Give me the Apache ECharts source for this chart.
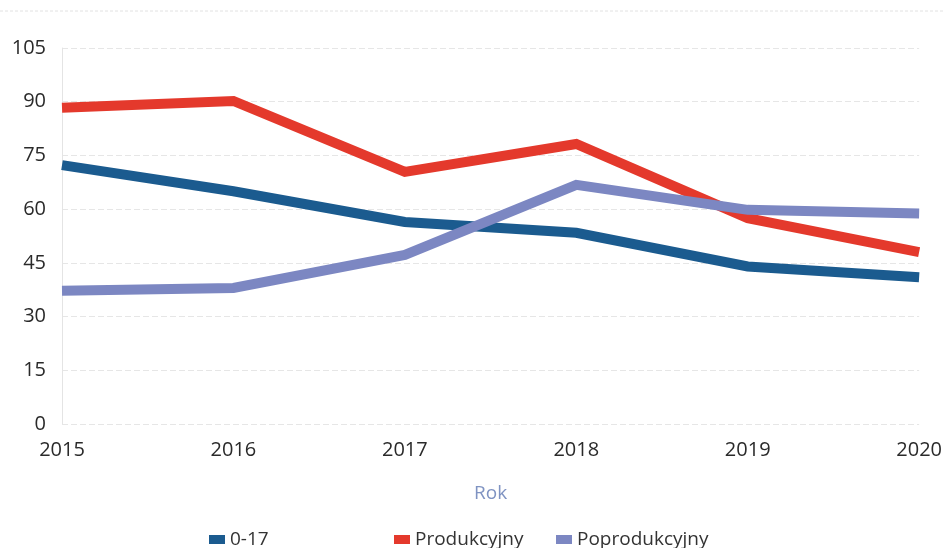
<!DOCTYPE html>
<html>
<head>
<meta charset="utf-8">
<script src="https://cdn.jsdelivr.net/npm/echarts@6/dist/echarts.min.js"></script>
<style>
  html, body { margin: 0; padding: 0; background: #fff; }
  #chart { width: 945px; height: 548px; }
</style>
</head>
<body>
<div id="chart"></div>
<script>
// dane
const years = ['2015', '2016', '2017', '2018', '2019', '2020'];
const young = [72.3, 65, 56.4, 53.4, 44, 41];
const working = [88.3, 90.2, 70.4, 78.2, 57.5, 48];
const retired = [37.2, 38, 47.2, 66.8, 59.8, 58.8];
const yTicks = [0, 15, 30, 45, 60, 75, 90, 105];

const colors = {
    young: '#1b5b8f',
    working: '#e4392c',
    retired: '#7c87c2'
};

const chart = echarts.init(document.getElementById('chart'));

const legendText = { fontFamily: 'Open Sans', fontSize: 19, color: '#333' };

function makeLegend(name, left) {
    return {
        data: [name],
        left: left,
        top: 525,
        itemWidth: 16,
        itemHeight: 9,
        icon: 'rect',
        itemGap: 6,
        textStyle: legendText
    };
}

const option = {
    backgroundColor: '#fff',
    animation: false,
    graphic: [{
        type: 'line',
        shape: { x1: 0, y1: 11, x2: 945, y2: 11 },
        style: { stroke: '#e2e2e2', lineWidth: 1, lineDash: [3, 2] }
    }],
    legend: [
        makeLegend('0-17', 204),
        makeLegend('Produkcyjny', 389),
        makeLegend('Poprodukcyjny', 551)
    ],
    grid: {
        left: 62,
        right: 24,
        top: 48,
        bottom: 124
    },
    xAxis: {
        type: 'category',
        data: years,
        boundaryGap: false,
        name: 'Rok',
        nameLocation: 'middle',
        nameGap: 60,
        nameTextStyle: { fontFamily: 'Open Sans', fontSize: 19, color: '#7f93c2' },
        axisLine: { show: false },
        axisTick: { show: false },
        axisLabel: {
            fontFamily: 'Open Sans',
            fontSize: 20,
            color: '#2a2a2a',
            margin: 16
        }
    },
    yAxis: {
        type: 'value',
        min: 0,
        max: 105,
        interval: 15,
        axisLine: { show: true, lineStyle: { color: '#e4e4e4' } },
        axisTick: { show: false },
        axisLabel: {
            fontFamily: 'Open Sans',
            fontSize: 20,
            color: '#2a2a2a',
            margin: 16,
            formatter: v => yTicks.includes(v) ? String(v) : ''
        },
        splitLine: { lineStyle: { color: '#e6e6e6', type: [6, 3] } }
    },
    series: [
        {
            name: '0-17',
            type: 'line',
            data: young,
            symbol: 'none',
            lineStyle: { width: 10, color: colors.young, join: 'miter' },
            itemStyle: { color: colors.young },
            z: 3
        },
        {
            name: 'Produkcyjny',
            type: 'line',
            data: working,
            symbol: 'none',
            lineStyle: { width: 10, color: colors.working, join: 'miter' },
            itemStyle: { color: colors.working },
            z: 2
        },
        {
            name: 'Poprodukcyjny',
            type: 'line',
            data: retired,
            symbol: 'none',
            lineStyle: { width: 10, color: colors.retired, join: 'miter' },
            itemStyle: { color: colors.retired },
            z: 4
        }
    ]
};

chart.setOption(option);
</script>
</body>
</html>
